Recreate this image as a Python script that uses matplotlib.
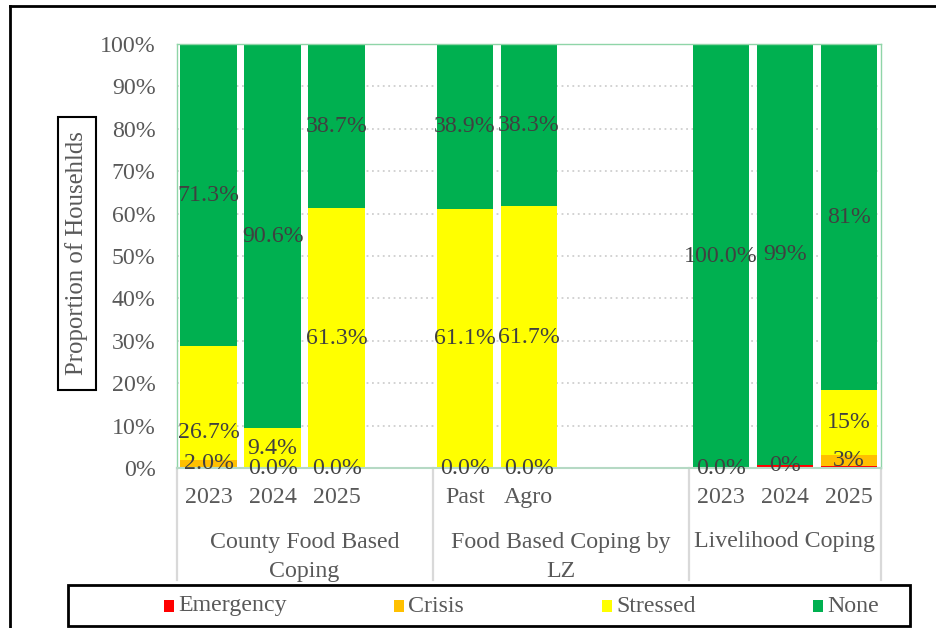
import numpy as np
import matplotlib
matplotlib.use("Agg")
import matplotlib.pyplot as plt
from matplotlib.patches import Rectangle
from matplotlib.lines import Line2D
import matplotlib.transforms as mtransforms

plt.rcParams['font.family'] = ['Liberation Serif', 'DejaVu Serif']

# ---------------- data ----------------
categories = ['2023', '2024', '2025', '', 'Past', 'Agro', '', '', '2023', '2024', '2025']
groups = ['County Food Based\nCoping', 'Food Based Coping by\nLZ', 'Livelihood Coping']
group_sizes = [4, 4, 3]

series_names = ['Emergency', 'Crisis', 'Stressed', 'None']
series_colors = ['#FF0000', '#FFC000', '#FFFF00', '#00B050']

emergency = [0.0, 0.0, 0.0, None, 0.0, 0.0, None, None, 0.0, 0.6, 0.4]
crisis    = [2.0, 0.0, 0.0, None, 0.0, 0.0, None, None, 0.0, 0.0, 2.6]
stressed  = [26.7, 9.4, 61.3, None, 61.1, 61.7, None, None, 0.0, 0.0, 15.3]
none_     = [71.3, 90.6, 38.7, None, 38.9, 38.3, None, None, 100.0, 99.4, 81.4]

label_decimals = [1, 1, 1, None, 1, 1, None, None, 1, 0, 0]
# which series carry a data label
show_label = {'Emergency': False, 'Crisis': True, 'Stressed': True, 'None': True}

series = [emergency, crisis, stressed, none_]

# ---------------- figure ----------------
W, H = 936, 628
fig = plt.figure(figsize=(W / 100, H / 100), dpi=100)
ax_l, ax_r, ax_t, ax_b = 176.5, 881, 44, 468
ax = fig.add_axes([ax_l / W, 1 - ax_b / H, (ax_r - ax_l) / W, (ax_b - ax_t) / H])

FS = 17.2
TICK_C = '#595959'
LBL_C = '#404040'

x = np.arange(len(categories))
ax.set_xlim(-0.5, len(categories) - 0.5)
ax.set_ylim(0, 100)

bottom = np.zeros(len(categories))
vals = np.array([[np.nan if v is None else v for v in s] for s in series])
totals = np.nansum(vals, axis=0)
totals[totals == 0] = 1
shares = vals / totals * 100

label_override = {('Stressed', 0): 8.3}

for si, (name, col) in enumerate(zip(series_names, series_colors)):
    h = np.nan_to_num(shares[si])
    mask = ~np.isnan(vals[si])
    ax.bar(x[mask], h[mask], width=0.88, bottom=bottom[mask], color=col,
           edgecolor='none', zorder=2, label=name)
    if show_label[name]:
        for i in x[mask]:
            raw = vals[si][i]
            if name == 'Stressed' and raw == 0 and i >= 8:
                continue
            d = label_decimals[i]
            txt = f'{raw:.{d}f}%'
            yc = bottom[i] + h[i] / 2
            yc = label_override.get((name, i), yc)
            ax.text(i, yc, txt, ha='center', va='center', fontsize=FS, color=LBL_C, zorder=4)
    bottom = bottom + h

# axes styling
for sp in ['top', 'left', 'right']:
    ax.spines[sp].set_color('#8fd5a8')
    ax.spines[sp].set_linewidth(1.0)
ax.spines['bottom'].set_color('#b5d9c4')
ax.spines['bottom'].set_linewidth(1.5)
ax.set_axisbelow(True)
ax.yaxis.grid(True, linestyle=(0, (1, 2)), color='#cfcfcf', lw=1.3)

yt = np.arange(0, 101, 10)
ax.set_yticks(yt)
ax.set_yticklabels([f'{v}%' for v in yt], fontsize=FS, color=TICK_C)
ax.set_xticks(x)
ax.set_xticklabels(categories, fontsize=FS, color=TICK_C)
ax.tick_params(axis='both', length=0)
ax.tick_params(axis='y', pad=15)
ax.tick_params(axis='x', pad=14)

# group labels & dividers
trans = mtransforms.blended_transform_factory(ax.transData, ax.transAxes)
div_bottom = (ax_b - 580) / (ax_b - ax_t)
start = -0.5
edges = [start]
for g, n in zip(groups, group_sizes):
    end = start + n
    centre = (start + end) / 2
    if '\n' in g:
        ax.text(centre, (ax_b - 557) / (ax_b - ax_t), g, transform=trans, ha='center',
                va='center', fontsize=FS, color=TICK_C, linespacing=1.45)
    else:
        ax.text(centre, (ax_b - 542) / (ax_b - ax_t), g, transform=trans, ha='center',
                va='center', fontsize=FS, color=TICK_C)
    edges.append(end)
    start = end
for e in edges:
    ax.plot([e, e], [0, div_bottom], transform=trans, color='#d9d9d9', lw=1.6,
            clip_on=False, zorder=1)

def fx(px):
    return px / W

def fy(py):
    return 1 - py / H

# y label in a box
fig.add_artist(Rectangle((fx(58), fy(390)), fx(96) - fx(58), fy(117) - fy(390),
                         transform=fig.transFigure, fc='white', ec='black', lw=1.5))
fig.text(fx(77), fy(253), 'Proportion of Househlds', rotation=90, ha='center', va='center',
         fontsize=17.8, color=TICK_C)

# legend (manual, Excel style)
fig.add_artist(Rectangle((fx(68), fy(626)), fx(910) - fx(68), fy(585) - fy(626),
                         transform=fig.transFigure, fill=False, ec='black', lw=2))
leg_x = [164, 394, 602, 813]
for name, col, lx in zip(series_names, series_colors, leg_x):
    fig.add_artist(Rectangle((fx(lx), fy(612)), fx(10), fy(600) - fy(612),
                             transform=fig.transFigure, fc=col, ec='none'))
    fig.text(fx(lx + 14), fy(606), name, ha='left', va='center', fontsize=FS, color=TICK_C)

# outer frame lines (partially visible)
fig.add_artist(Line2D([fx(10), fx(10)], [fy(6), 0], transform=fig.transFigure, color='black', lw=2))
fig.add_artist(Line2D([fx(10), 1], [fy(6), fy(6)], transform=fig.transFigure, color='black', lw=2))

fig.savefig('out.png', dpi=100)
